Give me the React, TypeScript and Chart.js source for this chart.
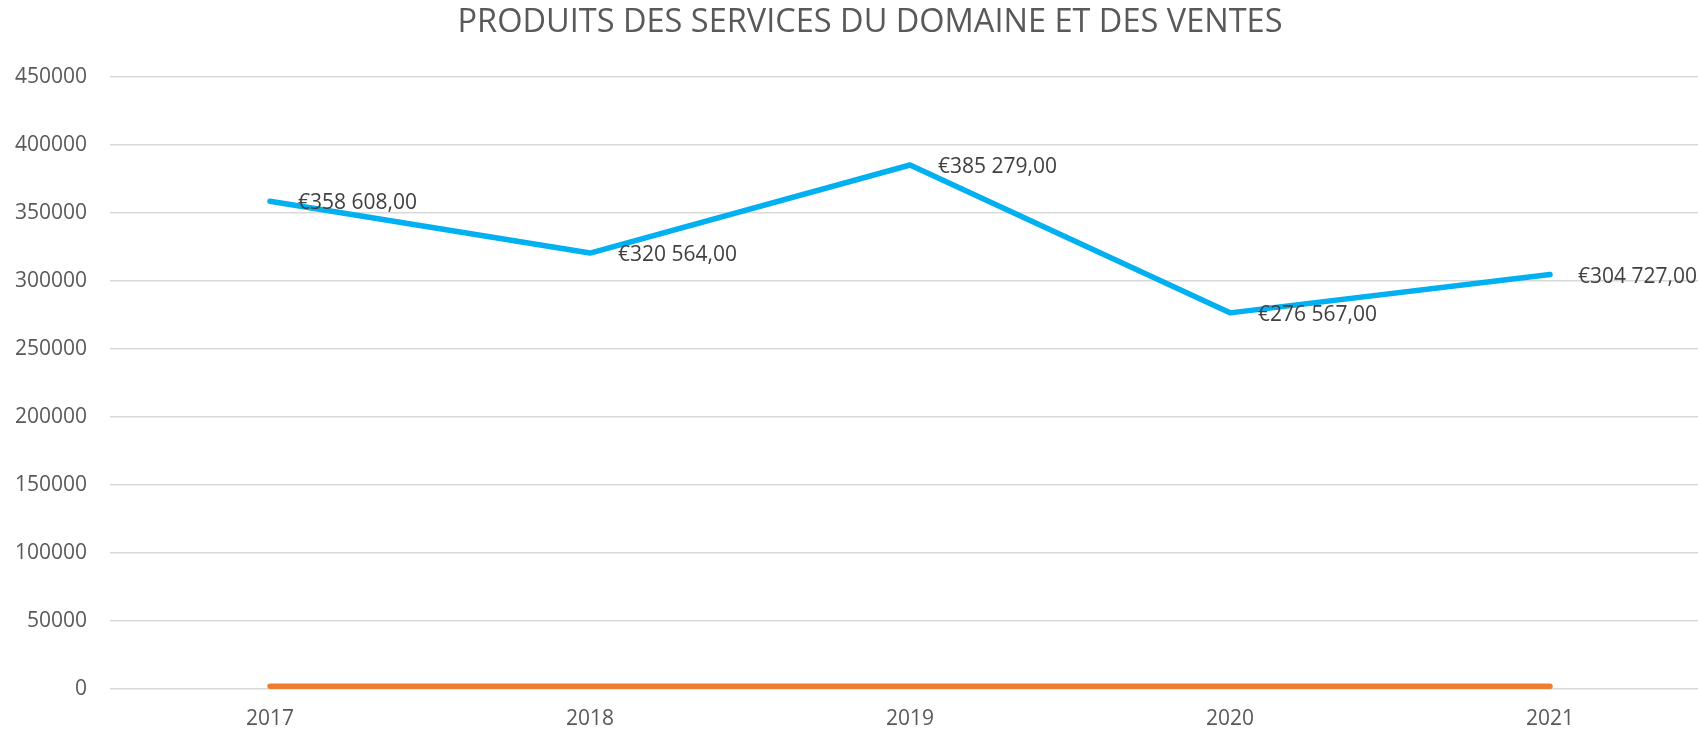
import React, { useEffect, useRef } from "react";
import { Chart, registerables } from "chart.js";

Chart.register(...registerables);

const titleText = "PRODUITS DES SERVICES DU DOMAINE ET DES VENTES";
const years = ["2017", "2018", "2019", "2020", "2021"];
const produits = [358608, 320564, 385279, 276567, 304727];
const annees = [2017, 2018, 2019, 2020, 2021];
const yMax = 450000;
const yStep = 50000;

const FONT = "'Open Sans', 'Noto Sans', sans-serif";

function formatEuro(v: number): string {
  const s = Math.round(v).toString();
  const parts: string[] = [];
  for (let i = s.length; i > 0; i -= 3) {
    parts.unshift(s.substring(Math.max(0, i - 3), i));
  }
  return "\u20AC" + parts.join(" ") + ",00";
}

const titlePlugin = {
  id: "titlePlugin",
  afterDraw(chart: any) {
    const ctx = chart.ctx;
    ctx.save();
    ctx.font = `32.5px ${FONT}`;
    ctx.fillStyle = "#595959";
    ctx.textAlign = "center";
    ctx.textBaseline = "middle";
    ctx.fillText(titleText, 870, 23);
    ctx.restore();
  },
};

const dataLabelPlugin = {
  id: "dataLabelPlugin",
  afterDatasetsDraw(chart: any) {
    const ctx = chart.ctx;
    const meta = chart.getDatasetMeta(0);
    ctx.save();
    ctx.font = `21px ${FONT}`;
    ctx.fillStyle = "#404040";
    ctx.textAlign = "left";
    ctx.textBaseline = "middle";
    meta.data.forEach((pt: any, i: number) => {
      ctx.fillText(formatEuro(produits[i]), pt.x + 28, pt.y + 2);
    });
    ctx.restore();
  },
};

export default function App() {
  const ref = useRef<HTMLCanvasElement | null>(null);
  useEffect(() => {
    if (!ref.current) return;
    const chart = new Chart(ref.current, {
      type: "line",
      data: {
        labels: years,
        datasets: [
          {
            label: "Produits",
            data: produits,
            borderColor: "#00B0F0",
            backgroundColor: "#00B0F0",
            borderWidth: 5.5,
            borderCapStyle: "round",
            borderJoinStyle: "round",
            pointRadius: 0,
            tension: 0,
          },
          {
            label: "Années",
            data: annees,
            borderColor: "#ED7D31",
            backgroundColor: "#ED7D31",
            borderWidth: 5.5,
            borderCapStyle: "round",
            borderJoinStyle: "round",
            pointRadius: 0,
            tension: 0,
          },
        ],
      },
      options: {
        responsive: false,
        animation: false,
        devicePixelRatio: 1,
        layout: { padding: { left: 0, right: 30, top: 77, bottom: 0 } },
        plugins: {
          legend: { display: false },
          tooltip: { enabled: false },
          title: { display: false },
        },
        scales: {
          x: {
            offset: true,
            grid: { display: false, drawTicks: false },
            border: { display: false },
            ticks: {
              color: "#595959",
              font: { family: FONT, size: 21 },
              padding: 17,
              maxRotation: 0,
            },
            afterFit: (scale: any) => {
              scale.height = 43;
            },
          },
          y: {
            min: 0,
            max: yMax,
            grid: { color: "#D9D9D9", lineWidth: 1.5, drawTicks: false },
            border: { display: false },
            ticks: {
              stepSize: yStep,
              color: "#595959",
              font: { family: FONT, size: 21 },
              padding: 23,
              callback: (v: any) => String(v),
            },
            afterFit: (scale: any) => {
              scale.width = 110;
            },
          },
        },
      },
      plugins: [dataLabelPlugin, titlePlugin],
    });
    return () => chart.destroy();
  }, []);

  return (
    <div
      style={{
        position: "fixed",
        left: 0,
        top: 0,
        width: 1698,
        height: 732,
        overflow: "hidden",
        background: "#ffffff",
      }}
    >
      <canvas ref={ref} width={1740} height={732} style={{ display: "block" }} />
    </div>
  );
}
